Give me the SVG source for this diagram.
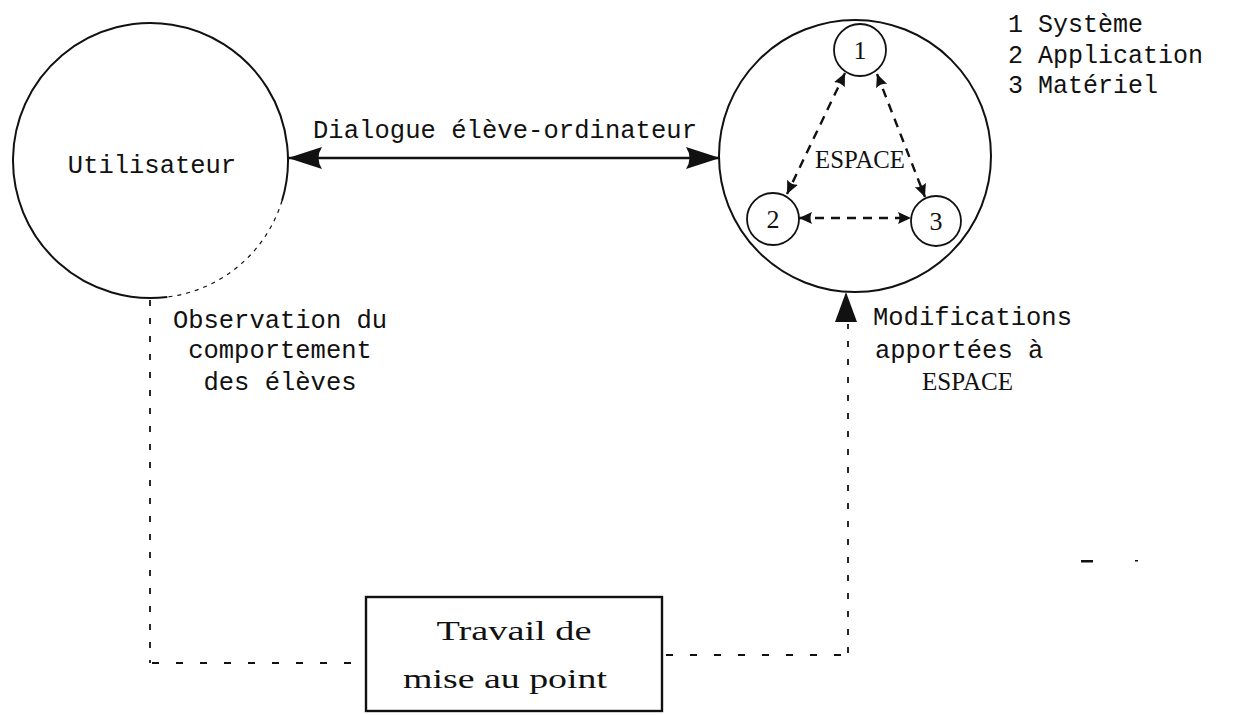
<svg xmlns="http://www.w3.org/2000/svg" width="1235" height="715" viewBox="0 0 1235 715">
  <style>
    .mono { font-family: "Liberation Mono", "DejaVu Sans Mono", monospace; font-size: 25.5px; fill: #111; }
    .serif { font-family: "Liberation Serif", "DejaVu Serif", serif; font-size: 26px; fill: #111; }
    .ring { fill: none; stroke: #111; stroke-width: 2; }
    .small { fill: #fff; stroke: #111; stroke-width: 1.8; }
    .solid { fill: none; stroke: #111; stroke-width: 2.4; }
    .inner { fill: none; stroke: #111; stroke-width: 2.4; stroke-dasharray: 9 7; }
    .vdash { fill: none; stroke: #111; stroke-width: 1.8; stroke-dasharray: 6 12; }
    .hdash { fill: none; stroke: #111; stroke-width: 1.8; stroke-dasharray: 7 17; }
  </style>
  <defs>
    <marker id="bigHead" markerUnits="userSpaceOnUse" markerWidth="36" markerHeight="24" refX="34" refY="12" orient="auto-start-reverse">
      <path d="M0,1 L34,12 L0,23 Q7,12 0,1 Z" fill="#111"/>
    </marker>
    <marker id="smallHead" markerUnits="userSpaceOnUse" markerWidth="14" markerHeight="14" refX="13" refY="7" orient="auto-start-reverse">
      <path d="M0,1 L13,7 L0,13 Q3,7 0,1 Z" fill="#111"/>
    </marker>
  </defs>

  <!-- user -->
  <g id="utilisateur">
    <path class="ring" d="M167.3,297 A137.5,137.5 0 1 1 282,200.7"/>
    <path d="M282,200.7 A137.5,137.5 0 0 1 167.3,297" fill="none" stroke="#111" stroke-width="1.2" stroke-dasharray="4 5"/>
    <text class="mono" x="152" y="173" text-anchor="middle">Utilisateur</text>
  </g>

  <!-- software -->
  <g id="espace">
    <circle class="ring" cx="855" cy="156" r="136"/>
    <text class="serif" x="815" y="168" textLength="90" lengthAdjust="spacingAndGlyphs">ESPACE</text>
  </g>
  <g id="systeme">
    <circle class="small" cx="860" cy="50" r="26"/>
    <text class="serif" x="860" y="59" text-anchor="middle">1</text>
  </g>
  <g id="application">
    <circle class="small" cx="773" cy="219" r="26"/>
    <text class="serif" x="773" y="228" text-anchor="middle">2</text>
  </g>
  <g id="materiel">
    <circle class="small" cx="936" cy="221" r="25"/>
    <text class="serif" x="936" y="230" text-anchor="middle">3</text>
  </g>

  <!-- work box -->
  <g id="travail">
    <rect x="366" y="597" width="296" height="114" fill="none" stroke="#111" stroke-width="2.4"/>
    <text class="serif" x="514" y="640" text-anchor="middle" textLength="155" lengthAdjust="spacingAndGlyphs" style="font-size:27px">Travail de</text>
    <text class="serif" x="505" y="688" text-anchor="middle" textLength="204" lengthAdjust="spacingAndGlyphs" style="font-size:27px">mise au point</text>
  </g>

  <!-- legend -->
  <g id="legende" class="mono" style="font-size:25px">
    <text x="1008" y="32">1 Système</text>
    <text x="1008" y="63">2 Application</text>
    <text x="1008" y="93">3 Matériel</text>
  </g>

  <!-- connectors -->
  <g id="connectors">
    <line class="solid" x1="288" y1="158" x2="720" y2="158" marker-start="url(#bigHead)" marker-end="url(#bigHead)"/>
    <line class="inner" x1="845" y1="73" x2="787" y2="194" marker-start="url(#smallHead)" marker-end="url(#smallHead)"/>
    <line class="inner" x1="877" y1="74" x2="925" y2="197" marker-start="url(#smallHead)" marker-end="url(#smallHead)"/>
    <line class="inner" x1="799" y1="218" x2="911" y2="218" marker-start="url(#smallHead)" marker-end="url(#smallHead)"/>
    <!-- observation path -->
    <line class="vdash" x1="150" y1="300" x2="150" y2="663"/>
    <line class="hdash" x1="152" y1="663" x2="364" y2="663"/>
    <!-- modification path -->
    <line class="hdash" x1="666" y1="655" x2="846" y2="655"/>
    <line class="vdash" x1="848" y1="653" x2="848" y2="324"/>
    <path d="M846,292 L857,322 L835,322 Z" fill="#111"/>
  </g>

  <!-- labels -->
  <g id="labels" class="mono">
    <text x="313" y="138" textLength="384" lengthAdjust="spacing">Dialogue élève-ordinateur</text>
    <text x="280" y="328" text-anchor="middle">Observation du</text>
    <text x="280" y="358" text-anchor="middle">comportement</text>
    <text x="280" y="390" text-anchor="middle">des élèves</text>
    <text x="873" y="325">Modifications</text>
    <text x="875" y="358">apportées à</text>
    <text class="serif" x="922" y="390" textLength="91" lengthAdjust="spacingAndGlyphs">ESPACE</text>
  </g>

  <!-- stray marks -->
  <g id="marks" fill="#111">
    <rect x="1081" y="560" width="12" height="2.5"/>
    <rect x="1135" y="560" width="3" height="1.5"/>
  </g>
</svg>
